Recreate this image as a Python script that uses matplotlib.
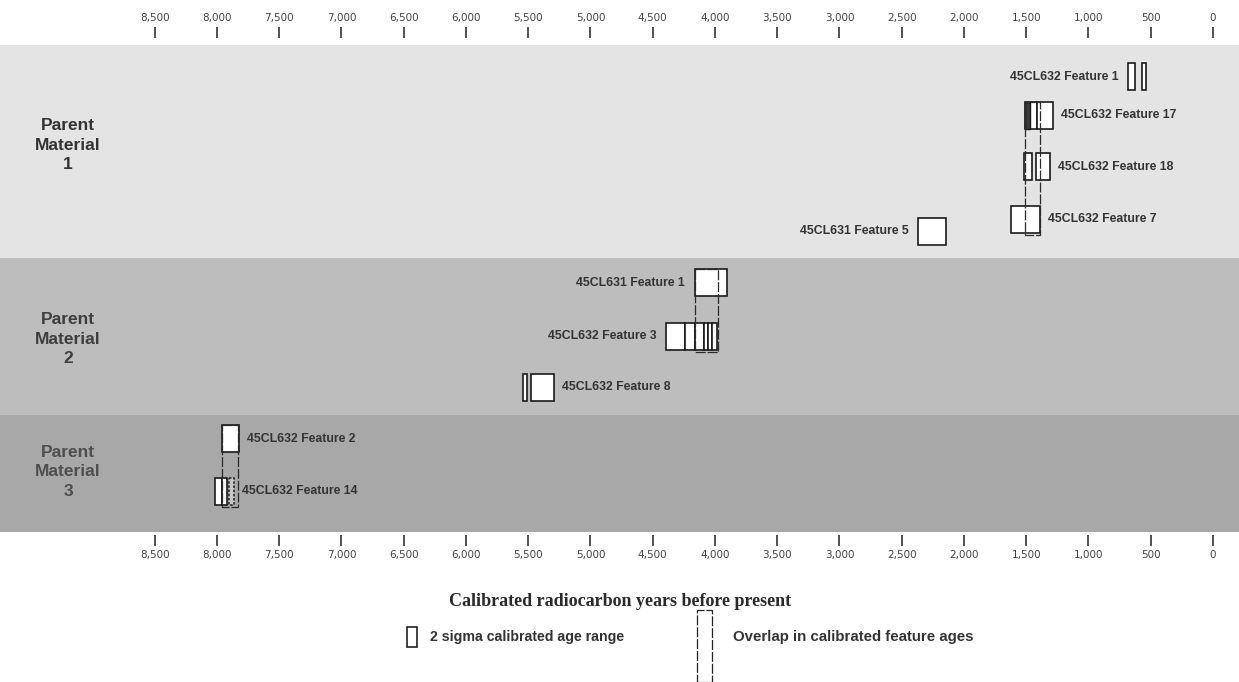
import numpy as np
import matplotlib
matplotlib.use("Agg")
from matplotlib import pyplot as plt
from matplotlib.patches import Rectangle
from matplotlib.ticker import StrMethodFormatter

# ---- data (calibrated years BP, older -> younger) ----
groups = ["Parent\nMaterial\n1", "Parent\nMaterial\n2", "Parent\nMaterial\n3"]

features = ["45CL632 Feature 1", "45CL632 Feature 17", "45CL632 Feature 18",
            "45CL632 Feature 7", "45CL631 Feature 5",
            "45CL631 Feature 1", "45CL632 Feature 3", "45CL632 Feature 8",
            "45CL632 Feature 2", "45CL632 Feature 14"]

age_ranges = [
    [(683, 627), (570, 538)],
    [(1510, 1414), (1414, 1285)],
    [(1518, 1454), (1422, 1309)],
    [(1622, 1390)],
    [(2369, 2145)],
    [(4161, 3904)],
    [(4394, 4241), (4241, 4161), (4161, 4088), (4088, 4056), (4056, 4024), (4024, 3984)],
    [(5542, 5510), (5478, 5293)],
    [(7960, 7823)],
    [(8016, 7960), (7960, 7920)],
]
dark_ranges = {1: (1510, 1470)}
dotted_ranges = {9: (7904, 7863)}

overlaps = [(1510, 1390), (4161, 3976), (7960, 7828)]
overlap_rows = [(1, 3), (5, 6), (8, 9)]

ticks = np.arange(0, 8501, 500)

# ---- layout ----
label_side = ["left", "right", "right", "right", "left",
              "left", "left", "right", "right", "right"]
row_y = [31.5, 70, 121.5, 174.5, 186, 237.5, 291, 342, 393.5, 446.5]
box_h = 27
band_edges = [0, 213, 370, 487]
band_colors = ["#e4e4e4", "#bdbdbd", "#a8a8a8"]
group_label_y = [100, 294, 427]
group_label_col = ["#333333", "#3e3e3e", "#4e4e4e"]

fig = plt.figure(figsize=(12.39, 6.82), dpi=100)
ax = fig.add_axes([0, 1 - 532 / 682, 1, 487 / 682])
ax.set_xlim(9743, -209)
ax.set_ylim(487, 0)

for i in range(3):
    ax.axhspan(band_edges[i], band_edges[i + 1], color=band_colors[i], zorder=0, lw=0)
    ax.text(68 / 1239, group_label_y[i], groups[i], transform=ax.get_yaxis_transform(),
            ha="center", va="center", fontsize=12.5, fontweight="bold", linespacing=1.4,
            family="Liberation Sans", color=group_label_col[i])

for i, name in enumerate(features):
    y0 = row_y[i] - box_h / 2
    for old, young in age_ranges[i]:
        ax.add_patch(Rectangle((old, y0), young - old, box_h, facecolor="white",
                               edgecolor="#1a1a1a", lw=1.2, zorder=3))
    if i in dark_ranges:
        old, young = dark_ranges[i]
        ax.add_patch(Rectangle((old, y0), young - old, box_h, facecolor="#3a3a3a",
                               edgecolor="#1a1a1a", lw=1.0, zorder=4))
    if i in dotted_ranges:
        old, young = dotted_ranges[i]
        ax.add_patch(Rectangle((old, y0), young - old, box_h, facecolor="#c8c8c8",
                               edgecolor="#2a2a2a", lw=1.2, ls=(0, (1.5, 1)), zorder=4))
    ends = [a for r in age_ranges[i] for a in r]
    if i in dotted_ranges:
        ends += list(dotted_ranges[i])
    if label_side[i] == "left":
        ax.annotate(name, (max(ends), row_y[i]), xytext=(-7, 0), textcoords="offset points",
                    ha="right", va="center", fontsize=8.8, fontweight="bold",
                    family="Liberation Sans", color="#333333", zorder=5)
    else:
        ax.annotate(name, (min(ends), row_y[i]), xytext=(6, 0), textcoords="offset points",
                    ha="left", va="center", fontsize=8.8, fontweight="bold",
                    family="Liberation Sans", color="#333333", zorder=5)

for (old, young), (r0, r1) in zip(overlaps, overlap_rows):
    top = row_y[r0] - box_h / 2
    bot = row_y[r1] + box_h / 2 + 2
    ax.add_patch(Rectangle((old, top), young - old, bot - top, facecolor="none",
                           edgecolor="#2a2a2a", lw=0.9, ls=(0, (8, 1.5)), zorder=6))

# ---- axes ----
for s in ax.spines.values():
    s.set_visible(False)
ax.spines["top"].set_position(("outward", 5))
ax.spines["bottom"].set_position(("outward", 2.5))
ax.set_yticks([])
ax.set_xticks(ticks)
ax.xaxis.set_major_formatter(StrMethodFormatter("{x:,.0f}"))
ax.tick_params(axis="x", top=True, labeltop=True, bottom=True, labelbottom=True,
               direction="out", length=8, width=1.2, color="#333333",
               labelsize=7.5, labelcolor="#444444", pad=2.5)

fig.text(620 / 1239, 1 - 602 / 682, "Calibrated radiocarbon years before present",
         ha="center", va="center", fontsize=13, fontweight="bold",
         family="Liberation Serif", color="#2a2a2a")

# ---- legend ----
W, H = 1239, 682
fig.add_artist(Rectangle((407 / W, 1 - 647 / H), 10 / W, 20 / H, transform=fig.transFigure,
                         facecolor="white", edgecolor="#222222", lw=1.2))
fig.text(430 / W, 1 - 637 / H, "2 sigma calibrated age range", ha="left", va="center",
         fontsize=10.2, fontweight="bold", family="Liberation Sans", color="#333333")
fig.add_artist(Rectangle((697 / W, 1 - 682 / H), 15 / W, 72 / H, transform=fig.transFigure,
                         facecolor="none", edgecolor="#222222", lw=0.9, ls=(0, (8, 1.5))))
fig.text(733 / W, 1 - 637 / H, "Overlap in calibrated feature ages", ha="left", va="center",
         fontsize=10.8, fontweight="bold", family="Liberation Sans", color="#333333")

fig.savefig("out.png", dpi=100, facecolor="white")
